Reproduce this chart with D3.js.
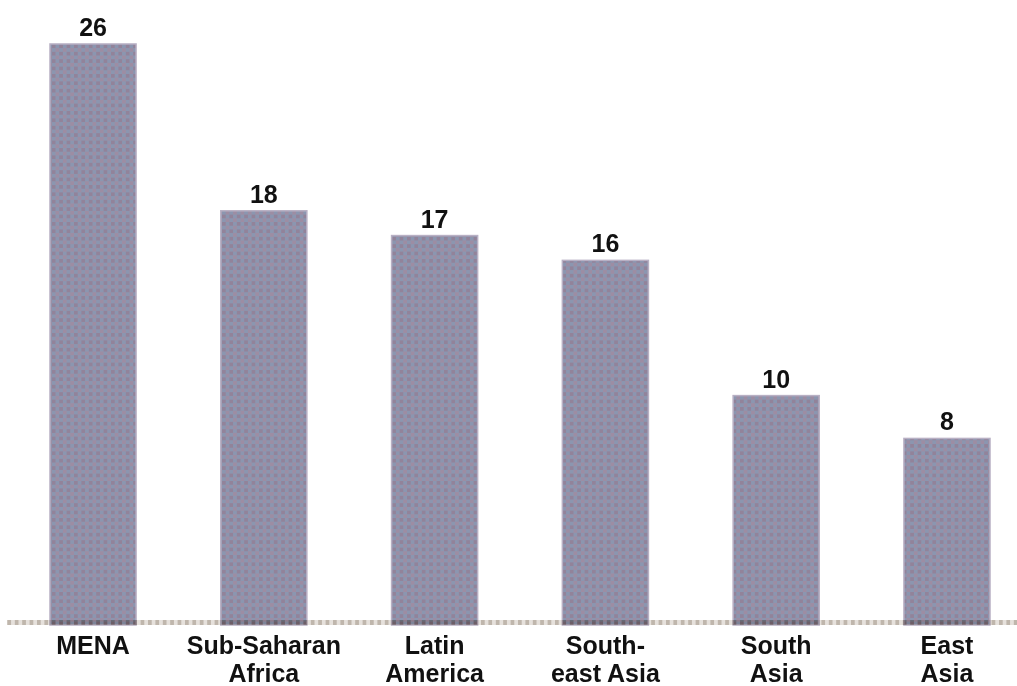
<!DOCTYPE html>
<html>
<head>
<meta charset="utf-8">
<script src="https://cdn.jsdelivr.net/npm/d3@7"></script>
<style>
  body { margin: 0; background: #fff; }
  svg { display: block; }
</style>
</head>
<body>
<div id="chart-area"></div>
<script>
// regions and share (labels show rounded value)
var regions = ["MENA", "Sub-Saharan Africa", "Latin America", "South-east Asia", "South Asia", "East Asia"]
var labelLines = [["MENA"], ["Sub-Saharan", "Africa"], ["Latin", "America"], ["South-", "east Asia"], ["South", "Asia"], ["East", "Asia"]]
var values = [25.6, 18.2, 17.1, 16.0, 10.0, 8.1]

var width = 1017, height = 686

var svg = d3.select("#chart-area").append("svg")
    .attr("width", width)
    .attr("height", height)

var defs = svg.append("defs")

// dithered bar fill
var pat = defs.append("pattern")
    .attr("id", "dither")
    .attr("patternUnits", "userSpaceOnUse")
    .attr("width", 7.4)
    .attr("height", 7.4)
pat.append("rect").attr("width", 7.4).attr("height", 7.4).attr("fill", "#8b96b0")
pat.append("rect").attr("width", 3.7).attr("height", 3.7).attr("fill", "#92839a")
pat.append("rect").attr("x", 3.7).attr("y", 3.7).attr("width", 3.7).attr("height", 3.7).attr("fill", "#9d8da3")

// dotted baseline
var pat2 = defs.append("pattern")
    .attr("id", "dots")
    .attr("patternUnits", "userSpaceOnUse")
    .attr("width", 7.4)
    .attr("height", 7.4)
pat2.append("rect").attr("width", 7.4).attr("height", 7.4).attr("fill", "#e6e1dc")
pat2.append("rect").attr("width", 3.7).attr("height", 7.4).attr("fill", "#bfb6ac")

var x = d3.scaleBand()
    .domain(regions)
    .range([50, 990])
    .paddingInner(0.496)
    .paddingOuter(0)

var y = d3.scaleLinear()
    .domain([0, 27])
    .range([621, 621 - 27 * 22.54])

svg.selectAll("rect.bar")
    .data(values)
  .enter().append("rect")
    .attr("class", "bar")
    .attr("x", function(d, i) { return x(regions[i]) })
    .attr("y", function(d) { return y(d) })
    .attr("width", x.bandwidth())
    .attr("height", function(d) { return y(0) + 4 - y(d) })
    .attr("fill", "url(#dither)")
    .attr("stroke", "#b8b0c4")
    .attr("stroke-width", 1.5)

svg.append("rect")
    .attr("x", 7)
    .attr("y", y(0) - 1)
    .attr("width", width - 7)
    .attr("height", 5)
    .attr("fill", "url(#dots)")
    .style("mix-blend-mode", "multiply")

// value labels
svg.selectAll("text.value")
    .data(values)
  .enter().append("text")
    .attr("class", "value")
    .attr("x", function(d, i) { return x(regions[i]) + x.bandwidth() / 2 })
    .attr("y", function(d) { return y(d) - 8 })
    .attr("text-anchor", "middle")
    .attr("font-family", "Liberation Sans, Arial, sans-serif")
    .attr("font-weight", "bold")
    .attr("font-size", "25px")
    .attr("fill", "#111")
    .text(function(d) { return Math.round(d) })

// category labels
var cat = svg.selectAll("text.cat")
    .data(labelLines)
  .enter().append("text")
    .attr("class", "cat")
    .attr("text-anchor", "middle")
    .attr("font-family", "Liberation Sans, Arial, sans-serif")
    .attr("font-weight", "bold")
    .attr("font-size", "25px")
    .attr("fill", "#111")

cat.selectAll("tspan")
    .data(function(d, i) { return d.map(function(t) { return { t: t, i: i } }) })
  .enter().append("tspan")
    .attr("x", function(d) { return x(regions[d.i]) + x.bandwidth() / 2 })
    .attr("y", function(d, j) { return 654 + j * 28 })
    .text(function(d) { return d.t })
</script>
</body>
</html>
